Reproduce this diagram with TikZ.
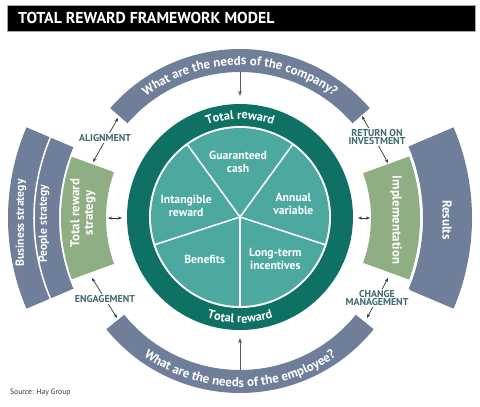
\documentclass[tikz,border=0pt]{standalone}
\usepackage{fontspec}
\setmainfont{PT Sans}
\usetikzlibrary{arrows.meta,decorations.text}
\definecolor{slate}{HTML}{6F7E99}
\definecolor{sage}{HTML}{8FAE84}
\definecolor{ring}{HTML}{0E7164}
\definecolor{pie}{HTML}{4DA99F}
\definecolor{linktxt}{HTML}{3F6A6E}
\definecolor{arrowc}{HTML}{333333}

\tikzset{
  pielbl/.style={text=white,font=\bfseries\fontsize{10}{11}\selectfont,align=center},
  blocklbl/.style={text=white,font=\bfseries\fontsize{11}{11.5}\selectfont,align=center},
  sidelbl/.style={text=white,font=\bfseries\fontsize{10}{11}\selectfont,align=center},
  linklbl/.style={text=linktxt,font=\bfseries\fontsize{8.5}{7.5}\selectfont,align=center,fill=white,inner sep=1pt},
  twoway/.style={{Stealth[length=3.5pt]}-{Stealth[length=3.5pt]},arrowc,line width=0.6pt},
  oneway/.style={-{Stealth[length=4.5pt]},arrowc!80,line width=0.8pt},
}

\begin{document}
\begin{tikzpicture}[x=0.03cm,y=0.03cm]
  \useasboundingbox (-240,-189) rectangle (240,217);

  % title bar
  \fill[black] (-233,186) rectangle (235,212);
  \draw[black!35,line width=0.5pt] (-233,186) rectangle (235,212);
  \node[anchor=west,text=white,font=\bfseries\fontsize{13.5}{14}\selectfont]
    (title) at (-226,199) {TOTAL REWARD FRAMEWORK MODEL};

  % question bands
  \begin{scope}[shift={(0,-4)}]
    \fill[slate] (41:172) arc[start angle=41,end angle=139,radius=172]
      -- (139:149) arc[start angle=139,end angle=41,radius=149] -- cycle;
    \fill[slate] (219:172) arc[start angle=219,end angle=321,radius=172]
      -- (321:149) arc[start angle=321,end angle=219,radius=149] -- cycle;
    \path[decorate,decoration={text along path,text align=center,text color=white,
      text={|\bfseries\fontsize{11}{12}\selectfont|What are the needs of the company?}}]
      (139:156) arc[start angle=139,end angle=41,radius=156];
    \path[decorate,decoration={text along path,text align=center,text color=white,
      text={|\bfseries\fontsize{11}{12}\selectfont|What are the needs of the employee?}}]
      (221:166) arc[start angle=221,end angle=319,radius=166];
    \coordinate (topq) at (90:149);
    \coordinate (botq) at (270:149);
  \end{scope}

  % side blocks
  \begin{scope}[shift={(0,-1)}]
    \fill[slate] (157:232) arc[start angle=157,end angle=203,radius=232]
      -- (203:181) arc[start angle=203,end angle=157,radius=181] -- cycle;
    \draw[white,line width=1.3pt] (156:206) arc[start angle=156,end angle=204,radius=206];
    \fill[sage] (160:179) arc[start angle=160,end angle=200,radius=179]
      -- (200:134) arc[start angle=200,end angle=160,radius=134] -- cycle;
    \fill[sage] (-20:180) arc[start angle=-20,end angle=20,radius=180]
      -- (20:131) arc[start angle=20,end angle=-20,radius=131] -- cycle;
    \fill[slate] (-23:232) arc[start angle=-23,end angle=23,radius=232]
      -- (23:183) arc[start angle=23,end angle=-23,radius=183] -- cycle;
  \end{scope}
  \node[sidelbl,rotate=90] (biz) at (-219,-6) {Business strategy};
  \node[sidelbl,rotate=90] (ppl) at (-196,-7) {People strategy};
  \node[blocklbl,rotate=90] (trs) at (-157,4) {Total reward\\strategy};
  \node[blocklbl,rotate=-90] (impl) at (156,-3) {Implementation};
  \node[blocklbl,rotate=-90] (res) at (207,-3) {Results};

  % total reward wheel
  \fill[ring] (0,0) circle[radius=113];
  \fill[white] (0,0) circle[radius=91];
  \fill[pie] (0,0) circle[radius=89];
  \foreach \a in {54,126,198,270,342}
    \draw[white,line width=1.3pt] (0,0) -- (\a:89.5);
  \path[decorate,decoration={text along path,text align=center,text color=white,
    text={|\bfseries\fontsize{10.5}{12}\selectfont|Total reward}}]
    (125:98) arc[start angle=125,end angle=55,radius=98];
  \path[decorate,decoration={text along path,text align=center,text color=white,
    text={|\bfseries\fontsize{10.5}{12}\selectfont|Total reward}}]
    (235:106) arc[start angle=235,end angle=305,radius=106];

  \foreach \a/\n/\t in {92/cash/{Guaranteed\\cash},14/var/{Annual\\variable},
      310/lti/{Long-term\\incentives},230/ben/{Benefits},168/intang/{Intangible\\reward}}
    \node[pielbl] (\n) at (\a:55) {\t};

  % links
  \coordinate (toptip) at (0,121);
  \coordinate (bottip) at (0,-121);
  \draw[oneway] (topq) -- (toptip);
  \draw[oneway] (botq) -- (bottip);

  \coordinate (al1) at (-122,99);   \coordinate (al2) at (-147,55);
  \coordinate (en1) at (-148,-61);  \coordinate (en2) at (-123,-101);
  \coordinate (ro1) at (122,101);   \coordinate (ro2) at (148,54);
  \coordinate (cm1) at (148,-61);   \coordinate (cm2) at (127,-101);
  \coordinate (lh1) at (-132,-1);   \coordinate (lh2) at (-118,-1);
  \coordinate (rh1) at (118,-1);    \coordinate (rh2) at (130,-1);
  \foreach \p/\q in {al1/al2,en1/en2,ro1/ro2,cm1/cm2,lh1/lh2,rh1/rh2}
    \draw[twoway] (\p) -- (\q);

  \node[linklbl] (align) at (-135,79) {ALIGNMENT};
  \node[linklbl] (engage) at (-135,-82) {ENGAGEMENT};
  \node[linklbl] (roi) at (137,80) {RETURN ON\\INVESTMENT};
  \node[linklbl] (change) at (137,-81) {CHANGE\\MANAGEMENT};

  % source
  \node[anchor=west,text=black!80,font=\fontsize{6.5}{7}\selectfont] (src) at (-234,-176) {Source: Hay Group};
\end{tikzpicture}
\end{document}
